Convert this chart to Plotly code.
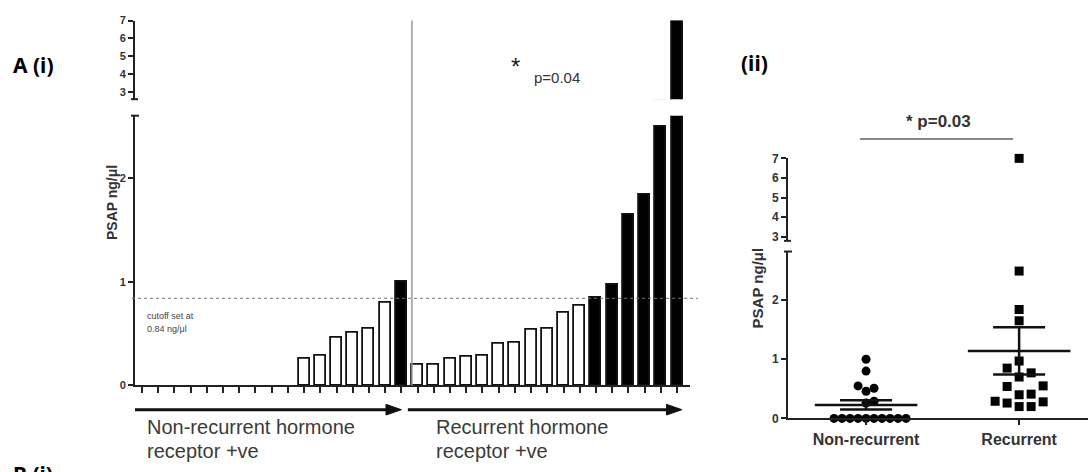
import numpy as np
import plotly.graph_objects as go

# ---- data (PSAP, ng/ul) ----
non_recurrent = [0, 0, 0, 0, 0, 0, 0, 0, 0, 0, 0.26, 0.29, 0.46, 0.51, 0.55, 0.80, 1.00]
recurrent = [0.20, 0.20, 0.26, 0.28, 0.29, 0.40, 0.41, 0.54, 0.55, 0.70, 0.77,
             0.85, 0.97, 1.65, 1.84, 2.49, 7.00]
cutoff = 0.84
group_labels = ["Non-recurrent", "Recurrent"]
lower_ticks_left = [0, 1, 2]
upper_ticks = [3, 4, 5, 6, 7]

W, H = 1088, 472


def fx(px):
    return px / W


def fy(py):
    return 1 - py / H


AX = "#222222"
TXT = "#3a3a3a"
FONT = "Liberation Sans"

fig = go.Figure()

# ---- panel (i): waterfall bars ----
all_vals = non_recurrent + recurrent
idx = list(range(len(all_vals)))
colors = ["#000000" if v >= cutoff else "#ffffff" for v in all_vals]
outline_w = [1.8 if v > 0 else 0 for v in all_vals]
for xa, ya in (("x", "y"), ("x2", "y2")):
    fig.add_trace(go.Bar(
        x=idx, y=all_vals, xaxis=xa, yaxis=ya, width=0.68,
        marker=dict(color=colors, line=dict(color="#111111", width=outline_w)),
        showlegend=False, hoverinfo="skip"))

# ---- panel (ii): scatter with mean +/- SEM ----
LOW_TOP_R, UP_BOT_R = 2.82, 2.8
X_PX_PER_UNIT = 153.0
Y_PX_PER_UNIT = 61.0


def swarm(values, step_px, diam_px):
    placed, offs = [], []
    for v in values:
        y = v * Y_PX_PER_UNIT if v <= LOW_TOP_R else 1000 + v * 20
        k_seq = [0]
        for k in range(1, 12):
            k_seq += [k, -k]
        for k in k_seq:
            x = k * step_px
            if all((x - px) ** 2 + (y - py) ** 2 >= diam_px ** 2 for px, py in placed):
                break
        placed.append((x, y))
        offs.append(x / X_PX_PER_UNIT)
    return offs


groups = [
    (0, sorted(non_recurrent), "circle", 8, 8),
    (1, sorted(recurrent), "square", 12, 11),
]
for gx, vals, sym, step, diam in groups:
    offs = swarm(vals, step, diam)
    xs = [gx + o for o in offs]
    lo = [(x, v) for x, v in zip(xs, vals) if v <= LOW_TOP_R]
    hi = [(x, v) for x, v in zip(xs, vals) if v >= UP_BOT_R]
    for pts, xa, ya in ((lo, "x3", "y3"), (hi, "x4", "y4")):
        if pts:
            fig.add_trace(go.Scatter(
                x=[p[0] for p in pts], y=[p[1] for p in pts], xaxis=xa, yaxis=ya,
                mode="markers", cliponaxis=False,
                marker=dict(symbol=sym, size=9, color="#000000"),
                showlegend=False, hoverinfo="skip"))

shapes = []
for gx, vals, *_ in groups:
    arr = np.array(vals, dtype=float)
    m = arr.mean()
    sem = arr.std(ddof=1) / np.sqrt(len(arr))
    line = dict(color="#111111", width=2.5)
    shapes += [
        dict(type="line", xref="x3", yref="y3", x0=gx - 0.335, x1=gx + 0.335, y0=m, y1=m, line=line),
        dict(type="line", xref="x3", yref="y3", x0=gx - 0.17, x1=gx + 0.17, y0=m + sem, y1=m + sem, line=line),
        dict(type="line", xref="x3", yref="y3", x0=gx - 0.17, x1=gx + 0.17, y0=m - sem, y1=m - sem, line=line),
        dict(type="line", xref="x3", yref="y3", x0=gx, x1=gx, y0=m - sem, y1=m + sem, line=line),
    ]

# cutoff line and group separator
shapes.append(dict(type="line", xref="paper", yref="y", x0=fx(132), x1=fx(698), y0=cutoff, y1=cutoff,
                   line=dict(color="#777777", width=1, dash="dot")))
shapes.append(dict(type="line", xref="x", yref="paper", x0=16.65, x1=16.65, y0=fy(390), y1=fy(14),
                   line=dict(color="#999999", width=1.5)))

# group arrows under the bars
ay = fy(415)
hh = 5.5 / H
for x_start, x_tip in ((-0.75, 16.0), (16.4, 33.3)):
    shapes.append(dict(type="line", xref="x", yref="paper", x0=x_start, x1=x_tip - 0.6, y0=ay, y1=ay,
                       line=dict(color="#111111", width=3)))
    shapes.append(dict(type="path", xref="x", yref="paper",
                       path=f"M {x_tip},{ay} L {x_tip - 0.95},{ay + hh} L {x_tip - 0.95},{ay - hh} Z",
                       fillcolor="#111111", line=dict(color="#111111", width=1)))

# axis-break caps
for x0, x1, y in ((131, 139, 112), (131, 138, 95), (784, 792, 252), (784, 791, 241)):
    shapes.append(dict(type="line", xref="paper", yref="paper", x0=fx(x0), x1=fx(x1), y0=fy(y), y1=fy(y),
                       line=dict(color=AX, width=2)))

# significance bar for panel (ii)
shapes.append(dict(type="line", xref="x3", yref="paper", x0=-0.04, x1=0.96, y0=fy(136), y1=fy(136),
                   line=dict(color="#888888", width=2)))

ann = []


def text(x, y, s, size, bold=False, color=TXT, xanchor="left", family=FONT, angle=0):
    ann.append(dict(x=x, y=y, xref="paper", yref="paper", text=s, showarrow=False,
                    xanchor=xanchor, yanchor="middle", textangle=angle,
                    font=dict(family=family, size=size, color=color, weight="bold" if bold else "normal")))


text(fx(11), fy(60), "A (i)", 21, True, "#000000", family="Noto Sans")
text(fx(739), fy(58), "(ii)", 21, True, "#000000", family="Noto Sans")
text(fx(11), fy(481), "B (i)", 21, True, "#000000", family="Noto Sans")
text(fx(112), fy(202), "PSAP ng/μl", 14, True, "#333333", xanchor="center", angle=-90)
text(fx(757), fy(290), "PSAP ng/μl", 15, True, "#333333", xanchor="center", angle=-90)
text(fx(509), fy(61), "*", 24, False, "#222222")
text(fx(532), fy(73), "p=0.04", 15, False, "#333333")
text(fx(938), fy(118), "* p=0.03", 17, True, "#333333", xanchor="center")
text(fx(145), fy(318), "cutoff set at", 9, False, "#444444")
text(fx(145), fy(332), "0.84 ng/μl", 9, False, "#444444")
text(fx(145), fy(433), "Non-recurrent hormone", 20, False, TXT)
text(fx(145), fy(458), "receptor +ve", 20, False, TXT)
text(fx(434), fy(433), "Recurrent hormone", 20, False, TXT)
text(fx(434), fy(458), "receptor +ve", 20, False, TXT)

tickfont = dict(family=FONT, size=11, color="#333333", weight="bold")
yax_common = dict(showline=True, linecolor=AX, linewidth=2, ticks="outside", ticklen=5, tickwidth=1.5,
                  tickcolor=AX, showgrid=False, zeroline=False, tickfont=tickfont, fixedrange=True)
right_tickfont = dict(family=FONT, size=12, color="#333333", weight="bold")

fig.update_layout(
    width=W, height=H, margin=dict(l=0, r=0, t=0, b=0),
    paper_bgcolor="white", plot_bgcolor="white", bargap=0,
    shapes=shapes, annotations=ann,
    xaxis=dict(domain=[fx(135), fx(690)], range=[-0.43, 33.8], anchor="y", showline=True, linecolor=AX,
               linewidth=2, ticks="outside", tickmode="linear", tick0=0, dtick=1, ticklen=6, tickwidth=1.5,
               tickcolor=AX, showticklabels=False, showgrid=False, zeroline=False),
    yaxis=dict(domain=[fy(390), fy(112)], range=[0, 2.6], anchor="x", tickvals=lower_ticks_left, **yax_common),
    xaxis2=dict(domain=[fx(135), fx(690)], range=[-0.43, 33.8], anchor="y2", visible=False),
    yaxis2=dict(domain=[fy(95), fy(14)], range=[2.6, 7], anchor="x2", tickvals=upper_ticks, **yax_common),
    xaxis3=dict(domain=[fx(788), 1.0], range=[-0.51, 1.45], anchor="y3", showline=True, linecolor=AX,
                linewidth=2, ticks="outside", ticklen=5, tickwidth=1.5, tickcolor=AX,
                tickvals=[0, 1], ticktext=group_labels, showgrid=False, zeroline=False,
                tickfont=dict(family=FONT, size=16, color="#333333", weight="bold")),
    yaxis3=dict(domain=[fy(424), fy(252)], range=[0, LOW_TOP_R], anchor="x3", tickvals=lower_ticks_left,
                **{**yax_common, "tickfont": right_tickfont}),
    xaxis4=dict(domain=[fx(788), 1.0], range=[-0.51, 1.45], anchor="y4", visible=False),
    yaxis4=dict(domain=[fy(241), fy(156)], range=[UP_BOT_R, 7], anchor="x4", tickvals=upper_ticks,
                **{**yax_common, "tickfont": right_tickfont}),
)

fig.write_html("out.html")
